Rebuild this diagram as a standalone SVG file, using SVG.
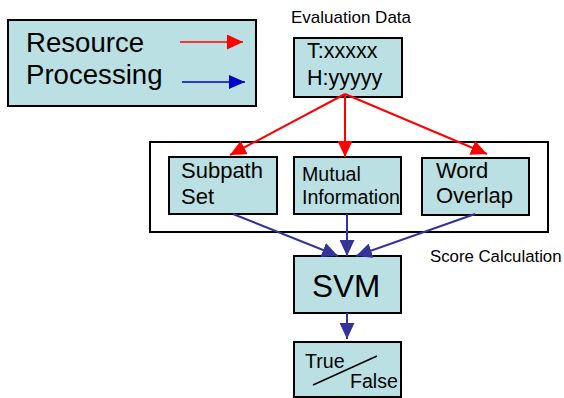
<svg xmlns="http://www.w3.org/2000/svg" width="564" height="398" viewBox="0 0 564 398">
  <style>
    .box { fill: #bbe0e3; stroke: #000; stroke-width: 2; }
    .frame { fill: none; stroke: #000; stroke-width: 2; }
    text { font-family: "Liberation Sans", Arial, sans-serif; fill: #000; }
    .red { stroke: #ff0000; stroke-width: 2; fill: none; }
    .navy { stroke: #333399; stroke-width: 2; fill: none; }
  </style>
  <defs>
    <marker id="headRed" markerUnits="userSpaceOnUse" markerWidth="16" markerHeight="15" refX="16" refY="7.5" orient="auto">
      <path d="M0,0 L16,7.5 L0,15 z" fill="#ff0000"/>
    </marker>
    <marker id="headBlue" markerUnits="userSpaceOnUse" markerWidth="16" markerHeight="14" refX="16" refY="7" orient="auto">
      <path d="M0,0 L16,7 L0,14 z" fill="#0000cc"/>
    </marker>
    <marker id="headNavy" markerUnits="userSpaceOnUse" markerWidth="16" markerHeight="15" refX="16" refY="7.5" orient="auto">
      <path d="M0,0 L16,7.5 L0,15 z" fill="#333399"/>
    </marker>
  </defs>

  <!-- legend -->
  <g id="legend">
    <rect class="box" x="8" y="20" width="248" height="86"/>
    <text x="26" y="52" font-size="27.6">Resource</text>
    <text x="26" y="84" font-size="27.6">Processing</text>
    <line x1="180" y1="42" x2="243" y2="42" stroke="#ff0000" stroke-width="1.5" marker-end="url(#headRed)"/>
    <line x1="182" y1="82" x2="245" y2="82" stroke="#0000cc" stroke-width="1.5" marker-end="url(#headBlue)"/>
  </g>

  <!-- labels -->
  <text x="291" y="23" font-size="17">Evaluation Data</text>
  <text x="430" y="262" font-size="16.8">Score Calculation</text>

  <!-- score calculation frame -->
  <rect class="frame" x="150" y="142" width="398" height="90"/>

  <g id="evaluation">
    <rect class="box" x="294" y="38" width="108" height="59"/>
    <text x="307" y="58" font-size="21.5">T:xxxxx</text>
    <text x="307" y="85" font-size="21.5">H:yyyyy</text>
  </g>

  <g id="subpath">
    <rect class="box" x="169" y="157" width="108" height="57"/>
    <text x="181" y="178" font-size="22">Subpath</text>
    <text x="181" y="204" font-size="22">Set</text>
  </g>

  <g id="mutual">
    <rect class="box" x="294" y="157" width="107" height="57"/>
    <text x="302" y="181" font-size="19.6">Mutual</text>
    <text x="302" y="204" font-size="19.6">Information</text>
  </g>

  <g id="word">
    <rect class="box" x="422" y="158" width="107" height="57"/>
    <text x="436" y="178" font-size="22">Word</text>
    <text x="436" y="203" font-size="22">Overlap</text>
  </g>

  <g id="svm">
    <rect class="box" x="294" y="256" width="107" height="57"/>
    <text x="312" y="297" font-size="31.5">SVM</text>
  </g>

  <g id="truefalse">
    <rect class="box" x="294" y="342" width="107" height="55"/>
    <text x="305" y="368" font-size="19.6">True</text>
    <text x="350" y="388" font-size="19.6">False</text>
    <line x1="313" y1="385" x2="377" y2="356" stroke="#000" stroke-width="1.5"/>
  </g>

  <!-- connectors -->
  <g id="connectors">
    <line class="red" x1="345" y1="94" x2="230" y2="155" marker-end="url(#headRed)"/>
    <line class="red" x1="345" y1="94" x2="345" y2="157" marker-end="url(#headRed)"/>
    <line class="red" x1="345" y1="94" x2="487" y2="154" marker-end="url(#headRed)"/>
    <line class="navy" x1="233" y1="214" x2="338" y2="256" marker-end="url(#headNavy)"/>
    <line class="navy" x1="347" y1="214" x2="347" y2="256" marker-end="url(#headNavy)"/>
    <line class="navy" x1="475" y1="214" x2="356" y2="256" marker-end="url(#headNavy)"/>
    <line class="navy" x1="347" y1="313" x2="347" y2="339" marker-end="url(#headNavy)"/>
  </g>
</svg>
